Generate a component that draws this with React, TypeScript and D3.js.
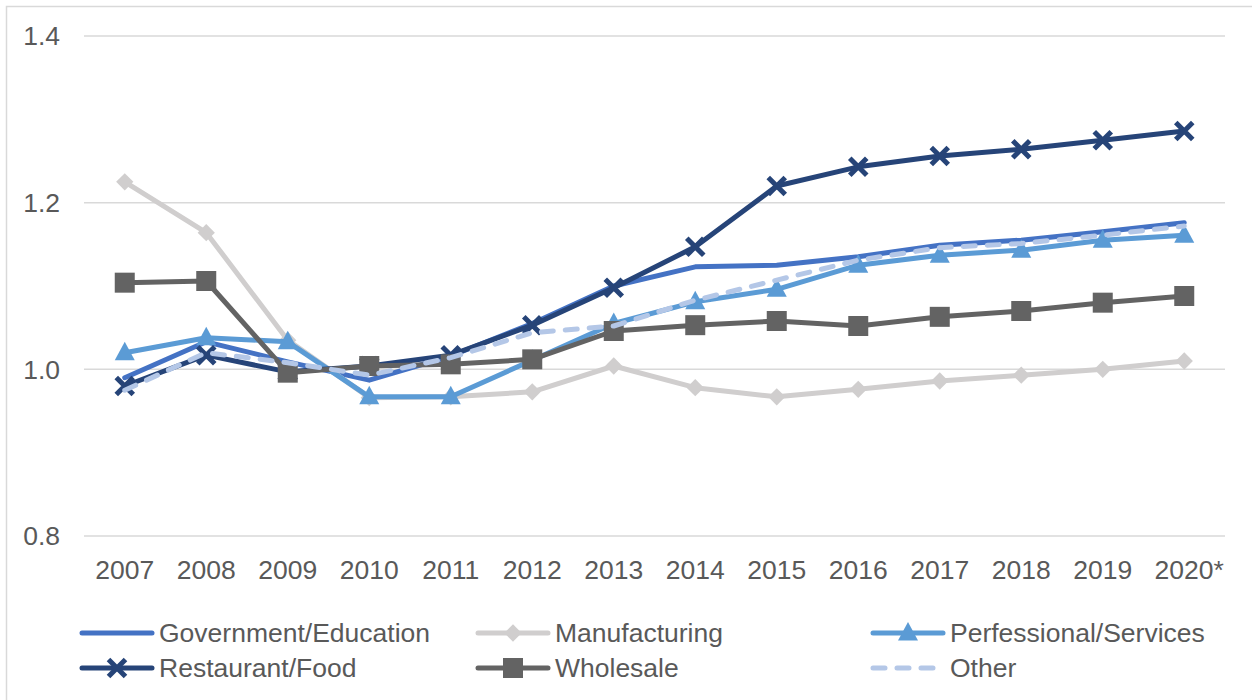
import React from "react";
import * as d3 from "d3";

const years = ["2007","2008","2009","2010","2011","2012","2013","2014","2015","2016","2017","2018","2019","2020*"];
const yTicks = [0.8, 1.0, 1.2, 1.4];

const government = [0.99,1.033,1.009,0.987,1.016,1.055,1.1,1.123,1.125,1.135,1.149,1.155,1.165,1.176];
const manufacturing = [1.225,1.164,1.035,0.966,0.967,0.973,1.004,0.978,0.967,0.976,0.986,0.993,1.0,1.01];
const professional = [1.02,1.038,1.033,0.967,0.967,1.011,1.055,1.081,1.096,1.125,1.137,1.143,1.155,1.161];
const restaurant = [0.98,1.017,0.997,1.004,1.017,1.053,1.098,1.147,1.22,1.243,1.256,1.264,1.275,1.286];
const wholesale = [1.104,1.106,0.996,1.004,1.006,1.012,1.046,1.053,1.058,1.052,1.063,1.07,1.08,1.088];
const other = [0.975,1.02,1.008,0.993,1.014,1.044,1.052,1.083,1.107,1.131,1.146,1.151,1.161,1.172];

type Marker = "none" | "diamond" | "triangle" | "x" | "square";
const seriesNames = ["Government/Education","Manufacturing","Perfessional/Services","Restaurant/Food","Wholesale","Other"];
const seriesValues = [government, manufacturing, professional, restaurant, wholesale, other];
const seriesColors = ["#4472C4","#D0CECE","#5B9BD5","#264478","#636363","#B4C7E7"];
const seriesMarkers: Marker[] = ["none","diamond","triangle","x","square","none"];
const seriesDashed = [false,false,false,false,false,true];

const FONT = "'Liberation Sans', Arial, sans-serif";
const TEXT = "#595959";
const FS = 26.5;
const LW = 5;

function MarkerShape({ type, x, y, color }: { type: Marker; x: number; y: number; color: string }) {
  if (type === "diamond") {
    const p = d3.symbol().type(d3.symbolDiamond2).size(190)();
    return <path d={p || ""} transform={`translate(${x},${y})`} fill={color} />;
  }
  if (type === "square") {
    return <rect x={x - 10} y={y - 10} width={20} height={20} fill={color} />;
  }
  if (type === "triangle") {
    return <path d={`M${x},${y - 11}L${x + 10},${y + 7.5}L${x - 10},${y + 7.5}Z`} fill={color} />;
  }
  if (type === "x") {
    const s = 8.5;
    return (
      <path d={`M${x - s},${y - s}L${x + s},${y + s}M${x - s},${y + s}L${x + s},${y - s}`} stroke={color} strokeWidth={5} fill="none" />
    );
  }
  return null;
}

export default function App() {
  const W = 1252, H = 700;
  const x = d3.scaleBand<string>().domain(years).range([84, 1225]);
  const cx = (d: string) => (x(d) as number) + x.bandwidth() / 2;
  const y = d3.scaleLinear().domain([0.8, 1.4]).range([536, 36]);
  const line = d3.line<number>().x((_, i) => cx(years[i])).y((v) => y(v));

  const legendCols = [82, 478, 873];
  const legendRows = [633, 668];

  return (
    <svg width={W} height={H} style={{ position: "absolute", left: 0, top: 0, background: "#fff" }} fontFamily={FONT}>
      <rect x={6.5} y={6.5} width={1300} height={760} fill="#fff" stroke="#D9D9D9" strokeWidth={1.5} />
      {yTicks.map((t) => (
        <g key={t}>
          <line x1={84} x2={1225} y1={y(t)} y2={y(t)} stroke="#D9D9D9" strokeWidth={1.5} />
          <text x={60} y={y(t)} dy="0.35em" textAnchor="end" fontSize={FS} fill={TEXT}>{t.toFixed(1)}</text>
        </g>
      ))}
      {years.map((yr) => (
        <text key={yr} x={yr.endsWith("*") ? cx(yr) + 5 : cx(yr)} y={579} textAnchor="middle" fontSize={FS} fill={TEXT}>{yr}</text>
      ))}
      {seriesValues.map((vals, si) => (
        <g key={seriesNames[si]}>
          <path d={line(vals) || ""} fill="none" stroke={seriesColors[si]} strokeWidth={LW}
            strokeLinejoin="round" strokeLinecap="round"
            strokeDasharray={seriesDashed[si] ? "12 12" : undefined} />
          {vals.map((v, i) => (
            <MarkerShape key={i} type={seriesMarkers[si]} x={cx(years[i])} y={y(v)} color={seriesColors[si]} />
          ))}
        </g>
      ))}
      {seriesNames.map((name, si) => {
        const lx = legendCols[si % 3];
        const ly = legendRows[Math.floor(si / 3)];
        return (
          <g key={name}>
            <line x1={lx} x2={lx + 70} y1={ly} y2={ly} stroke={seriesColors[si]} strokeWidth={LW} strokeLinecap="round"
              strokeDasharray={seriesDashed[si] ? "12 12" : undefined} />
            <MarkerShape type={seriesMarkers[si]} x={lx + 35} y={ly} color={seriesColors[si]} />
            <text x={lx + 77} y={ly} dy="0.35em" fontSize={FS} fill={TEXT}>{name}</text>
          </g>
        );
      })}
    </svg>
  );
}
